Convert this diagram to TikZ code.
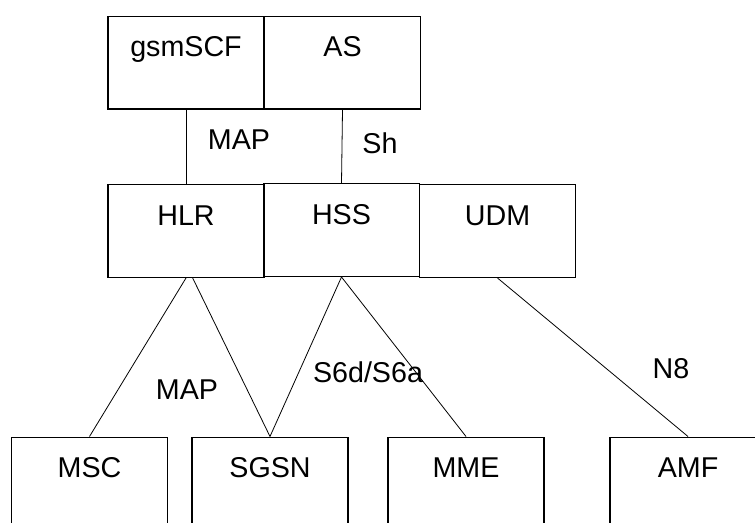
\documentclass[tikz,border=0pt]{standalone}
\usepackage{fontspec}
\setmainfont{Liberation Sans}
\usetikzlibrary{positioning}
\tikzset{%
	nf/.style    = {draw, thick, rectangle, line width=1pt, inner sep=0pt,
		minimum width = 117pt, text height = 30.5pt, text depth = 39pt,
		font=\fontsize{21.5}{26}\selectfont},
	iflabel/.style = {font=\fontsize{21.5}{26}\selectfont}, % interface name
	link/.style    = {line width=0.6pt}
}
\begin{document}
\begin{tikzpicture}[x=0.75pt,y=-0.75pt]
                \useasboundingbox (0,0) rectangle (755,522);
                \clip (0,0) rectangle (755,522);
                % service layer
                \node[nf] (gsm) at (186,62.5) {gsmSCF};
                \node[nf] (as) at (342.5,62.5) {AS};
                % subscriber data
                \node[nf] (hlr) at (186,231) {HLR};
                \node[nf] (hss) at (341.5,230) {HSS};
                \node[nf] (udm) at (497.5,231) {UDM};
                % core network nodes
                \node[nf] (msc) at (89.5,483.5) {MSC};
                \node[nf] (sgsn) at (270,483.5) {SGSN};
                \node[nf] (mme) at (466,483.5) {MME};
                \node[nf] (amf) at (688,483.5) {AMF};

                \draw[link] (gsm.south) -- (hlr.north);
                \draw[link] (as.south)  -- (hss.north);
                \draw[link] (hlr.south) -- (msc.north);
                \draw[link] ([xshift=5pt]hlr.south) -- (sgsn.north);
                \draw[link] (hss.south) -- (sgsn.north);
                \draw[link] (hss.south) -- (mme.north);
                \draw[link] (udm.south) -- (amf.north);

                \node[iflabel] (mapup) at (239,140) {MAP};
                \node[iflabel] (sh) at (380,143) {Sh};
                \node[iflabel] (maplow) at (187,390) {MAP};
                \node[iflabel] (s6) at (368,372) {S6d/S6a};
                \node[iflabel] (n8) at (671,369) {N8};
            \end{tikzpicture}
\end{document}
